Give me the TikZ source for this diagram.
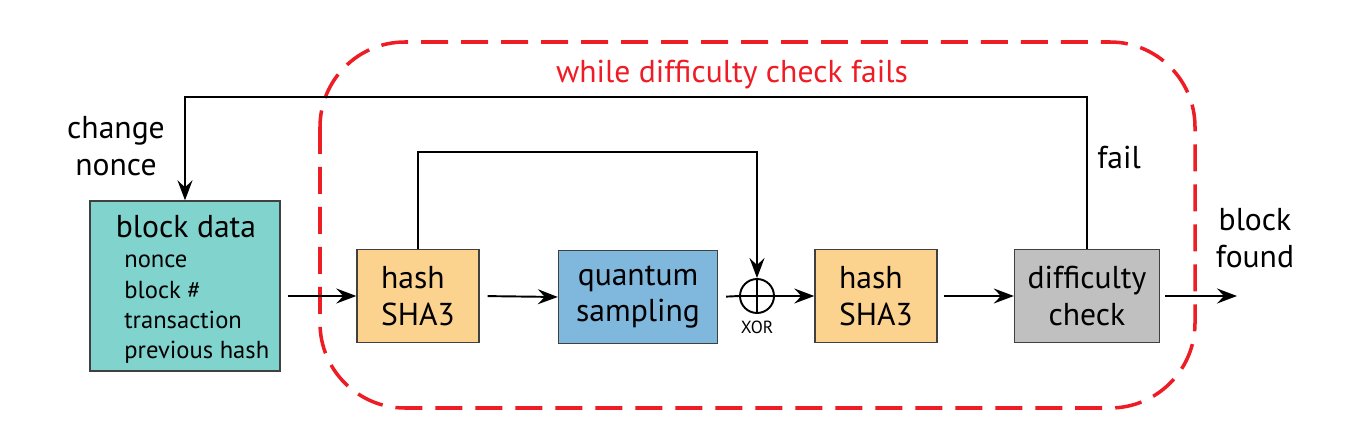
\documentclass[tikz,border=0pt]{standalone}
\usepackage{fontspec}
\setmainfont{PT Sans}
\usetikzlibrary{arrows.meta}
\definecolor{blockteal}{HTML}{80D4CD}
\definecolor{hashorange}{HTML}{FCD28F}
\definecolor{quantblue}{HTML}{7FB7DD}
\definecolor{checkgray}{HTML}{C0C0C0}
\definecolor{loopred}{HTML}{EE1C24}

\begin{document}
\begin{tikzpicture}[x=0.02cm,y=-0.02cm,
  box/.style={draw=black!75,line width=0.8pt,inner sep=0pt,align=center,
    minimum height=1.86cm,font=\fontsize{18}{21}\selectfont},
  flow/.style={line width=1.1pt,-{Stealth[length=4mm,width=3mm,inset=1.4mm]}},
  lbl/.style={align=center,font=\fontsize{18}{21}\selectfont}]
  \useasboundingbox (0,0) rectangle (1349,446);
  % loop region
  \draw[loopred,line width=2pt,dash pattern=on 0.54cm off 0.26cm,rounded corners=1.7cm]
    (320,42) rectangle (1195,408);
  \node[lbl,text=loopred] (while) at (732,75) {while difficulty check fails};
  % blocks
  \node[box,fill=blockteal,minimum width=3.8cm,minimum height=3.4cm] (bdata) at (185,286) {};
  \node[lbl,inner sep=1pt] (bdtitle) at (186,227) {block data};
  \node[align=left,anchor=north west,inner sep=0pt,font=\fontsize{14}{17.2}\selectfont]
    (bditems) at (124,255) {nonce\\block \#\\transaction\\previous hash};
  \node[box,fill=hashorange,minimum width=2.44cm,align=left] (hashA) at (418,296) {hash\\SHA3};
  \node[box,fill=quantblue,minimum width=3.18cm] (quant) at (638,297) {quantum\\sampling};
  \node[circle,draw,line width=1.1pt,minimum size=0.68cm,inner sep=0pt] (xor) at (757,296) {};
  \node[font=\fontsize{10}{12}\selectfont] (xorlbl) at (757,327) {XOR};
  \node[box,fill=hashorange,minimum width=2.44cm,align=left] (hashB) at (876,296) {hash\\SHA3};
  \node[box,fill=checkgray,minimum width=2.9cm] (check) at (1087,296) {difficulty\\check};
  \coordinate (out) at (1237,296);
  \coordinate (top) at (0,97);
  \coordinate (inner) at (0,152);
  % labels
  \node[lbl] (change) at (116,146) {change\\nonce};
  \node[lbl] (fail) at (1119,157) {fail};
  \node[lbl] (found) at (1255,238) {block\\found};
  % connectors
  \draw[line width=1.1pt] (xor.north) -- (xor.south) (xor.west) -- (xor.east);
  \draw[flow,shorten <=0.14cm] (bdata.east |- hashA.west) -- (hashA.west);
  \draw[flow,shorten <=0.16cm] (hashA.east) -- (quant.west);
  \draw[line width=1.1pt,shorten <=0.16cm] (quant.east) -- (xor.west);
  \draw[flow] (xor.east) -- (hashB.west);
  \draw[flow,shorten <=0.12cm] (hashB.east) -- (check.west);
  \draw[flow,shorten <=0.1cm] (check.east) -- (out);
  \draw[flow] (hashA.north) -- (hashA.north |- inner) -| (xor.north);
  \draw[flow] (check.north) -- (check.north |- top) -| (bdata.north);
\end{tikzpicture}
\end{document}
